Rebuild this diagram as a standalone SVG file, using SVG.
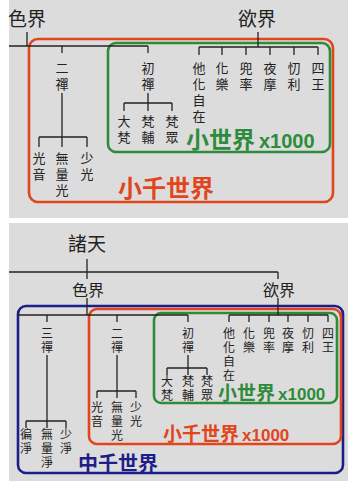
<svg xmlns="http://www.w3.org/2000/svg" width="348" height="491" viewBox="0 0 348 491">
<style>
.bg{fill:#dcdcdc}
.ln{stroke:#222;stroke-width:1.3;fill:none}
.t{font-family:"Liberation Sans","Noto Sans CJK TC","Noto Sans CJK SC",sans-serif;fill:#222;text-anchor:middle}
.big{font-size:19px;text-anchor:start}
.mid{font-size:16px;text-anchor:start}
.s1{font-size:13px}
.s2{font-size:12px}
.lab{font-family:"Liberation Sans","Noto Sans CJK TC","Noto Sans CJK SC",sans-serif;font-weight:bold}
.num{font-family:"Liberation Sans",Arial,sans-serif;font-weight:bold}
.red{stroke:#e2441c;stroke-width:2.6;fill:none}
.grn{stroke:#2e8b3a;stroke-width:2.6;fill:none}
.blu{stroke:#1e1e8a;stroke-width:2.6;fill:none}
</style>
<rect x="0" y="0" width="348" height="491" fill="#fff"/>
<rect class="bg" x="9" y="0" width="339" height="218"/>
<rect class="bg" x="9" y="223" width="339" height="258"/>

<!-- TOP PANEL -->
<g id="top-frames">
<rect class="red" x="29" y="39" width="304" height="163" rx="9"/>
<rect class="grn" x="108" y="43" width="222" height="109" rx="8"/>
</g>
<g id="top-connectors">
<path class="ln" d="M27 32V46M9 46H148M62 46V53M148 46V53"/>
<path class="ln" d="M258 32V47M199 47H318M199 47V55M222 47V55M246 47V55M270 47V55M294 47V55M318 47V55"/>
<path class="ln" d="M62 93V137M39 137H87M39 137V147M62 137V147M87 137V147"/>
<path class="ln" d="M148 93V103M124 103H172M124 103V111M148 103V111M172 103V111"/>
</g>
<g id="t-sejie"><text class="t big" x="8" y="26">色界</text></g>
<g id="t-yujie"><text class="t big" x="238" y="26">欲界</text></g>
<g id="t-erchan"><text class="t s1" x="62" y="73">二</text><text class="t s1" x="62" y="89">禪</text></g>
<g id="t-chuchan"><text class="t s1" x="148" y="73">初</text><text class="t s1" x="148" y="89">禪</text></g>
<g id="t-tahua"><text class="t s1" x="199" y="73">他</text><text class="t s1" x="199" y="89">化</text><text class="t s1" x="199" y="105">自</text><text class="t s1" x="199" y="121">在</text></g>
<g id="t-huale"><text class="t s1" x="222" y="73">化</text><text class="t s1" x="222" y="89">樂</text></g>
<g id="t-doushuai"><text class="t s1" x="246" y="73">兜</text><text class="t s1" x="246" y="89">率</text></g>
<g id="t-yemo"><text class="t s1" x="270" y="73">夜</text><text class="t s1" x="270" y="89">摩</text></g>
<g id="t-daoli"><text class="t s1" x="294" y="73">忉</text><text class="t s1" x="294" y="89">利</text></g>
<g id="t-siwang"><text class="t s1" x="318" y="73">四</text><text class="t s1" x="318" y="89">王</text></g>
<g id="t-dafan"><text class="t s1" x="124" y="126">大</text><text class="t s1" x="124" y="142">梵</text></g>
<g id="t-fanfu"><text class="t s1" x="148" y="126">梵</text><text class="t s1" x="148" y="142">輔</text></g>
<g id="t-fanzhong"><text class="t s1" x="172" y="126">梵</text><text class="t s1" x="172" y="142">眾</text></g>
<g id="t-guangyin"><text class="t s1" x="39" y="163">光</text><text class="t s1" x="39" y="179">音</text></g>
<g id="t-wuliangguang"><text class="t s1" x="62" y="163">無</text><text class="t s1" x="62" y="179">量</text><text class="t s1" x="62" y="195">光</text></g>
<g id="t-shaoguang"><text class="t s1" x="87" y="163">少</text><text class="t s1" x="87" y="179">光</text></g>
<g id="t-xiaoshijie"><text x="186" y="148" fill="#2e8b3a"><tspan class="lab" font-size="23">小世界</tspan><tspan class="num" font-size="20" dx="4">x1000</tspan></text></g>
<g id="t-xiaoqian"><text class="lab" x="118" y="197" font-size="24" fill="#e2441c">小千世界</text></g>

<!-- BOTTOM PANEL -->
<g id="bottom-frames">
<rect class="blu" x="18" y="306" width="325" height="167" rx="8"/>
<rect class="red" x="89" y="309" width="252" height="135" rx="8"/>
<rect class="grn" x="154" y="313" width="183" height="90" rx="7"/>
</g>
<g id="bottom-connectors">
<path class="ln" d="M87 259V272M9 272H278M87 272V279M278 272V279"/>
<path class="ln" d="M87 298V315M18 315H188M47 315V322M117 315V322M188 315V322"/>
<path class="ln" d="M278 298V315M229 315H328M229 315V322M249 315V322M269 315V322M288 315V322M308 315V322M328 315V322"/>
<path class="ln" d="M188 355V368M167 368H207M167 368V375M188 368V375M207 368V375"/>
<path class="ln" d="M117 355V391M97 391H136M97 391V398M117 391V398M136 391V398"/>
<path class="ln" d="M47 355V421M26 421H66M26 421V428M47 421V428M66 421V428"/>
</g>
<g id="b-zhutian"><text class="t big" x="68" y="251">諸天</text></g>
<g id="b-sejie"><text class="t mid" x="72" y="296">色界</text></g>
<g id="b-yujie"><text class="t mid" x="263" y="296">欲界</text></g>
<g id="b-sanchan"><text class="t s2" x="47" y="338">三</text><text class="t s2" x="47" y="352">禪</text></g>
<g id="b-erchan"><text class="t s2" x="117" y="338">二</text><text class="t s2" x="117" y="352">禪</text></g>
<g id="b-chuchan"><text class="t s2" x="188" y="338">初</text><text class="t s2" x="188" y="352">禪</text></g>
<g id="b-tahua"><text class="t s2" x="229" y="338">他</text><text class="t s2" x="229" y="352">化</text><text class="t s2" x="229" y="366">自</text><text class="t s2" x="229" y="379.5">在</text></g>
<g id="b-huale"><text class="t s2" x="249" y="338">化</text><text class="t s2" x="249" y="352">樂</text></g>
<g id="b-doushuai"><text class="t s2" x="269" y="338">兜</text><text class="t s2" x="269" y="352">率</text></g>
<g id="b-yemo"><text class="t s2" x="288" y="338">夜</text><text class="t s2" x="288" y="352">摩</text></g>
<g id="b-daoli"><text class="t s2" x="308" y="338">忉</text><text class="t s2" x="308" y="352">利</text></g>
<g id="b-siwang"><text class="t s2" x="328" y="338">四</text><text class="t s2" x="328" y="352">王</text></g>
<g id="b-dafan"><text class="t s2" x="167" y="386">大</text><text class="t s2" x="167" y="400">梵</text></g>
<g id="b-fanfu"><text class="t s2" x="188" y="386">梵</text><text class="t s2" x="188" y="400">輔</text></g>
<g id="b-fanzhong"><text class="t s2" x="207" y="386">梵</text><text class="t s2" x="207" y="400">眾</text></g>
<g id="b-guangyin"><text class="t s2" x="97" y="412">光</text><text class="t s2" x="97" y="426">音</text></g>
<g id="b-wuliangguang"><text class="t s2" x="117" y="412">無</text><text class="t s2" x="117" y="426">量</text><text class="t s2" x="117" y="440">光</text></g>
<g id="b-shaoguang"><text class="t s2" x="136" y="412">少</text><text class="t s2" x="136" y="426">光</text></g>
<g id="b-bianjing"><text class="t s2" x="26" y="439">徧</text><text class="t s2" x="26" y="453">淨</text></g>
<g id="b-wuliangjing"><text class="t s2" x="47" y="439">無</text><text class="t s2" x="47" y="453">量</text><text class="t s2" x="47" y="467">淨</text></g>
<g id="b-shaojing"><text class="t s2" x="66" y="439">少</text><text class="t s2" x="66" y="453">淨</text></g>
<g id="b-xiaoshijie"><text x="218" y="399.5" fill="#2e8b3a"><tspan class="lab" font-size="19">小世界</tspan><tspan class="num" font-size="17" dx="3">x1000</tspan></text></g>
<g id="b-xiaoqian"><text x="163" y="441" fill="#e2441c"><tspan class="lab" font-size="19">小千世界</tspan><tspan class="num" font-size="17" dx="3">x1000</tspan></text></g>
<g id="b-zhongqian"><text class="lab" x="78" y="471" font-size="20" fill="#1e1e8a">中千世界</text></g>
</svg>
